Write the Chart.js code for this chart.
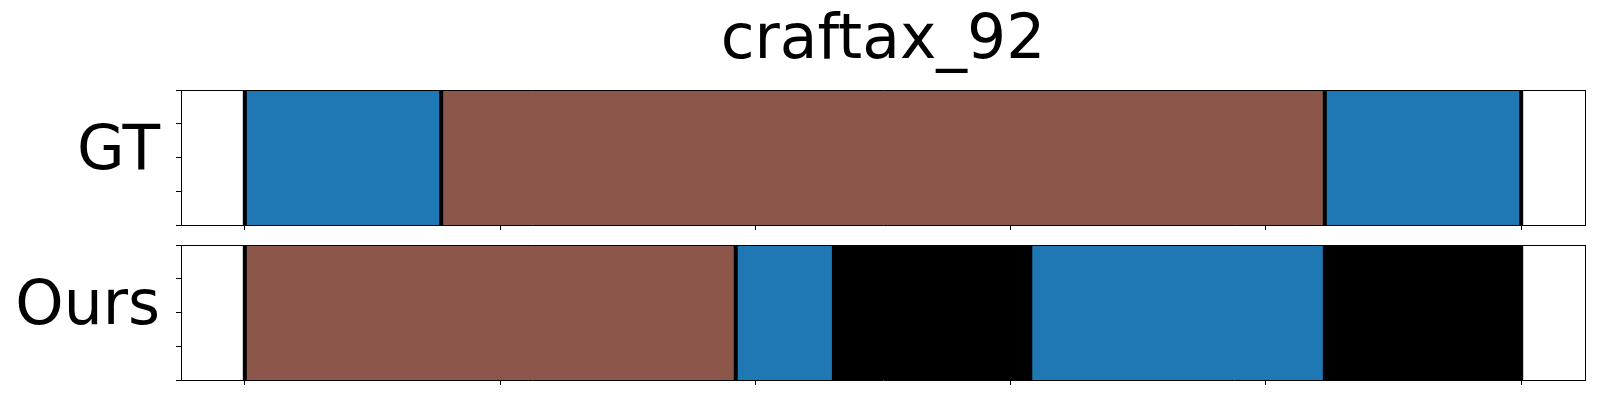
<!DOCTYPE html>
<html>
<head>
<meta charset="utf-8">
<script src="https://cdn.jsdelivr.net/npm/chart.js@4"></script>
<style>
  html, body { margin: 0; padding: 0; background: #ffffff; }
  #wrap { position: relative; width: 1600px; height: 400px; }
  canvas { position: absolute; left: 0; }
</style>
</head>
<body>
<div id="wrap">
  <canvas id="gt" width="1600" height="235" style="top:0px"></canvas>
  <canvas id="ours" width="1600" height="165" style="top:235px"></canvas>
</div>
<script>
// ---- data ----
const chartTitle = 'craftax_92';
const rowLabels = ['GT', 'Ours'];
const seqLength = 13;
const xTicks = [0, 2.6, 5.2, 7.8, 10.4, 13];
const yTicks = [0, 0.25, 0.5, 0.75, 1];
const gtBounds = [0, 2, 11, 13];
const gtClasses = ['A', 'B', 'A'];
const oursBounds = [0, 5, 6, 8, 11, 13];
const oursClasses = ['B', 'A', 'C', 'A', 'C'];

// ---- style ----
const classColors = { A: '#1f77b4', B: '#8c564b', C: '#000000' };
Chart.defaults.font.family = "'DejaVu Sans', sans-serif";
const xMin = -0.05 * seqLength;
const xMax = 1.05 * seqLength;
const bigFont = 61.5;

function zeroPad(s) {
  s.paddingTop = 0; s.paddingBottom = 0; s.paddingLeft = 0; s.paddingRight = 0;
}

function makeChart(id, label, bounds, classes, topH, bottomH, showTitle) {
  const bars = classes.map((c, i) => ({
    type: 'bar',
    data: [[bounds[i], bounds[i + 1]]],
    backgroundColor: classColors[c],
    borderWidth: 0,
    grouped: false,
    barPercentage: 1,
    categoryPercentage: 1,
    xAxisID: 'x',
    yAxisID: 'y',
    order: 1
  }));
  const lines = bounds.map(b => ({
    type: 'line',
    data: [{ x: b, y: 0 }, { x: b, y: 1 }],
    borderColor: '#000000',
    borderWidth: 4,
    pointRadius: 0,
    fill: false,
    xAxisID: 'x',
    yAxisID: 'yT',
    order: 0
  }));
  return new Chart(document.getElementById(id), {
    type: 'bar',
    data: { labels: [label], datasets: bars.concat(lines) },
    options: {
      responsive: false,
      animation: false,
      indexAxis: 'y',
      layout: { padding: 0 },
      plugins: { legend: { display: false }, tooltip: { enabled: false }, title: { display: false } },
      scales: {
        x: {
          type: 'linear', position: 'bottom', min: xMin, max: xMax, offset: false,
          afterBuildTicks: s => { s.ticks = xTicks.map(v => ({ value: v })); },
          ticks: { callback: () => '', padding: 0, autoSkip: false },
          grid: { offset: false, drawOnChartArea: false, drawTicks: true, tickLength: 5, color: '#000', tickColor: '#000', lineWidth: 1 },
          border: { display: true, color: '#000', width: 1, z: 1 },
          afterFit: s => { s.height = bottomH; zeroPad(s); }
        },
        xTop: {
          type: 'linear', position: 'top', min: xMin, max: xMax, offset: false,
          ticks: { display: false },
          grid: { display: false, drawTicks: false, offset: false },
          border: { display: true, color: '#000', width: 1, z: 1 },
          title: {
            display: showTitle, text: chartTitle, color: '#000',
            font: { size: bigFont, lineHeight: 1 }, padding: { top: 11, bottom: 0 }
          },
          afterFit: s => { s.height = topH; zeroPad(s); }
        },
        y: {
          type: 'category', position: 'left', weight: 1, offset: true,
          grid: { display: false, drawTicks: false },
          border: { display: false },
          ticks: { color: '#000', font: { size: bigFont }, padding: 16, labelOffset: -4.5 },
          afterFit: s => { s.width = 176; zeroPad(s); }
        },
        yT: {
          type: 'linear', position: 'left', weight: 0, min: 0, max: 1, offset: false,
          afterBuildTicks: s => { s.ticks = yTicks.map(v => ({ value: v })); },
          ticks: { callback: () => '', padding: 0, autoSkip: false },
          grid: { offset: false, drawOnChartArea: false, drawTicks: true, tickLength: 5, color: '#000', tickColor: '#000', lineWidth: 1 },
          border: { display: true, color: '#000', width: 1, z: 1 },
          afterFit: s => { s.width = 5; zeroPad(s); }
        },
        yRight: {
          type: 'linear', position: 'right', min: 0, max: 1, offset: false,
          ticks: { display: false },
          grid: { display: false, drawTicks: false, offset: false },
          border: { display: true, color: '#000', width: 1, z: 1 },
          afterFit: s => { s.width = 15; zeroPad(s); }
        }
      }
    }
  });
}

makeChart('gt', rowLabels[0], gtBounds, gtClasses, 90, 10, true);
makeChart('ours', rowLabels[1], oursBounds, oursClasses, 10, 20, false);
</script>
</body>
</html>
